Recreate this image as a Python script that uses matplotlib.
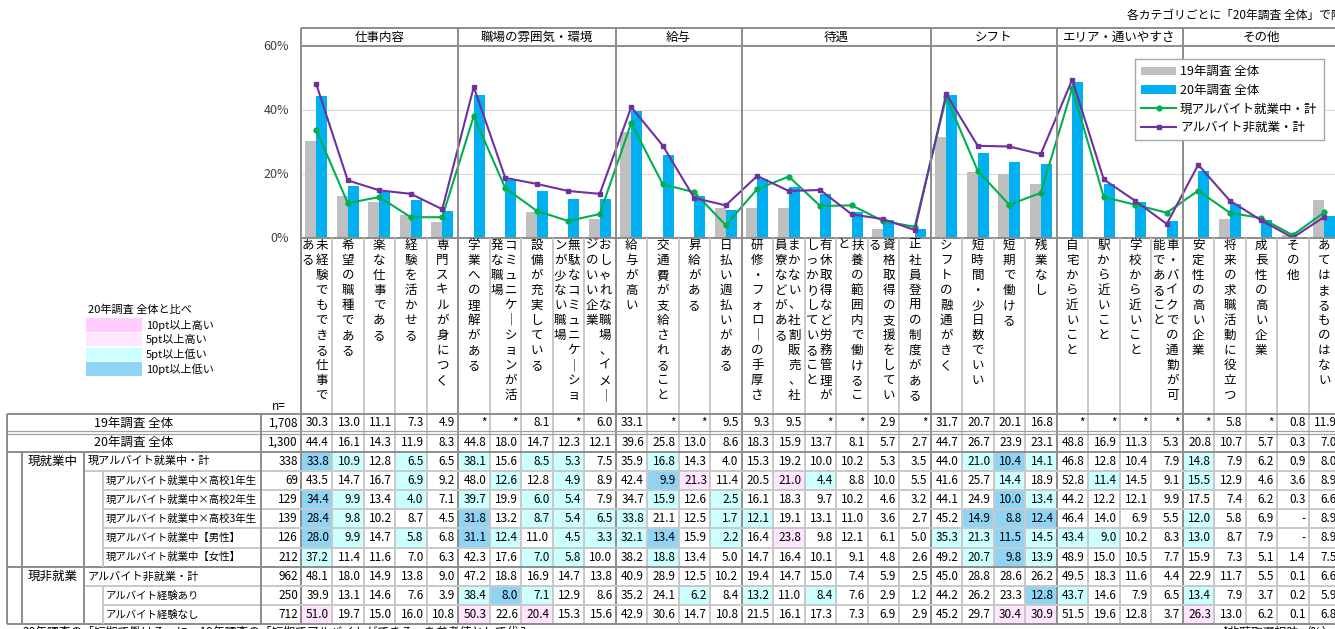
import numpy as np
import matplotlib.pyplot as plt
from matplotlib.patches import Rectangle

plt.rcParams['font.family'] = ['Noto Sans CJK JP', 'DejaVu Sans']

# ---- data ----
categories = ['仕事内容', '職場の雰囲気・環境', '給与', '待遇', 'シフト', 'エリア・通いやすさ', 'その他']
cat_sizes = [5, 5, 4, 6, 4, 4, 5]

items = ['未経験でもできる仕事である', '希望の職種である', '楽な仕事である', '経験を活かせる', '専門スキルが身につく',
         '学業への理解がある', 'コミュニケーションが活発な職場', '設備が充実している',
         '無駄なコミュニケーションが少ない職場', 'おしゃれな職場、イメージのいい企業',
         '給与が高い', '交通費が支給されること', '昇給がある', '日払い週払いがある',
         '研修・フォローの手厚さ', 'まかない、社割販売、社員寮などがある', '有休取得など労務管理がしっかりしていること',
         '扶養の範囲内で働けること', '資格取得の支援をしている', '正社員登用の制度がある',
         'シフトの融通がきく', '短時間・少日数でいい', '短期で働ける', '残業なし',
         '自宅から近いこと', '駅から近いこと', '学校から近いこと', '車・バイクでの通勤が可能であること',
         '安定性の高い企業', '将来の求職活動に役立つ', '成長性の高い企業', 'その他', 'あてはまるものはない']

row_labels = ['19年調査 全体', '20年調査 全体', '現アルバイト就業中・計',
              '現アルバイト就業中×高校1年生', '現アルバイト就業中×高校2年生', '現アルバイト就業中×高校3年生',
              '現アルバイト就業中【男性】', '現アルバイト就業中【女性】',
              'アルバイト非就業・計', 'アルバイト経験あり', 'アルバイト経験なし']
n_values = [1708, 1300, 338, 69, 129, 139, 126, 212, 962, 250, 712]

N = None
survey19 = [30.3, 13.0, 11.1, 7.3, 4.9, N, N, 8.1, N, 6.0, 33.1, N, N, 9.5, 9.3, 9.5, N, N, 2.9, N,
            31.7, 20.7, 20.1, 16.8, N, N, N, N, N, 5.8, N, 0.8, 11.9]
survey20 = [44.4, 16.1, 14.3, 11.9, 8.3, 44.8, 18.0, 14.7, 12.3, 12.1, 39.6, 25.8, 13.0, 8.6,
            18.3, 15.9, 13.7, 8.1, 5.7, 2.7, 44.7, 26.7, 23.9, 23.1, 48.8, 16.9, 11.3, 5.3,
            20.8, 10.7, 5.7, 0.3, 7.0]
working_total = [33.8, 10.9, 12.8, 6.5, 6.5, 38.1, 15.6, 8.5, 5.3, 7.5, 35.9, 16.8, 14.3, 4.0,
                 15.3, 19.2, 10.0, 10.2, 5.3, 3.5, 44.0, 21.0, 10.4, 14.1, 46.8, 12.8, 10.4, 7.9,
                 14.8, 7.9, 6.2, 0.9, 8.0]
working_hs1 = [43.5, 14.7, 16.7, 6.9, 9.2, 48.0, 12.6, 12.8, 4.9, 8.9, 42.4, 9.9, 21.3, 11.4,
               20.5, 21.0, 4.4, 8.8, 10.0, 5.5, 41.6, 25.7, 14.4, 18.9, 52.8, 11.4, 14.5, 9.1,
               15.5, 12.9, 4.6, 3.6, 8.9]
working_hs2 = [34.4, 9.9, 13.4, 4.0, 7.1, 39.7, 19.9, 6.0, 5.4, 7.9, 34.7, 15.9, 12.6, 2.5,
               16.1, 18.3, 9.7, 10.2, 4.6, 3.2, 44.1, 24.9, 10.0, 13.4, 44.2, 12.2, 12.1, 9.9,
               17.5, 7.4, 6.2, 0.3, 6.6]
working_hs3 = [28.4, 9.8, 10.2, 8.7, 4.5, 31.8, 13.2, 8.7, 5.4, 6.5, 33.8, 21.1, 12.5, 1.7,
               12.1, 19.1, 13.1, 11.0, 3.6, 2.7, 45.2, 14.9, 8.8, 12.4, 46.4, 14.0, 6.9, 5.5,
               12.0, 5.8, 6.9, N, 8.9]
working_male = [28.0, 9.9, 14.7, 5.8, 6.8, 31.1, 12.4, 11.0, 4.5, 3.3, 32.1, 13.4, 15.9, 2.2,
                16.4, 23.8, 9.8, 12.1, 6.1, 5.0, 35.3, 21.3, 11.5, 14.5, 43.4, 9.0, 10.2, 8.3,
                13.0, 8.7, 7.9, N, 8.9]
working_female = [37.2, 11.4, 11.6, 7.0, 6.3, 42.3, 17.6, 7.0, 5.8, 10.0, 38.2, 18.8, 13.4, 5.0,
                  14.7, 16.4, 10.1, 9.1, 4.8, 2.6, 49.2, 20.7, 9.8, 13.9, 48.9, 15.0, 10.5, 7.7,
                  15.9, 7.3, 5.1, 1.4, 7.5]
nonwork_total = [48.1, 18.0, 14.9, 13.8, 9.0, 47.2, 18.8, 16.9, 14.7, 13.8, 40.9, 28.9, 12.5, 10.2,
                 19.4, 14.7, 15.0, 7.4, 5.9, 2.5, 45.0, 28.8, 28.6, 26.2, 49.5, 18.3, 11.6, 4.4,
                 22.9, 11.7, 5.5, 0.1, 6.6]
nonwork_exp = [39.9, 13.1, 14.6, 7.6, 3.9, 38.4, 8.0, 7.1, 12.9, 8.6, 35.2, 24.1, 6.2, 8.4,
               13.2, 11.0, 8.4, 7.6, 2.9, 1.2, 44.2, 26.2, 23.3, 12.8, 43.7, 14.6, 7.9, 6.5,
               13.4, 7.9, 3.7, 0.2, 5.9]
nonwork_noexp = [51.0, 19.7, 15.0, 16.0, 10.8, 50.3, 22.6, 20.4, 15.3, 15.6, 42.9, 30.6, 14.7, 10.8,
                 21.5, 16.1, 17.3, 7.3, 6.9, 2.9, 45.2, 29.7, 30.4, 30.9, 51.5, 19.6, 12.8, 3.7,
                 26.3, 13.0, 6.2, 0.1, 6.8]

table_rows = [survey19, survey20, working_total, working_hs1, working_hs2, working_hs3,
              working_male, working_female, nonwork_total, nonwork_exp, nonwork_noexp]

# ---- layout (pixels) ----
W, H = 1335, 629
X0, CW = 300.5, 31.5
Y_TOP, Y_ZERO = 46, 238
DARK = '#8C8C8C'
LIGHT = '#C8C8C8'

def to_float(vals):
    return np.array([np.nan if v is None else v for v in vals], dtype=float)

fig = plt.figure(figsize=(W / 100, H / 100), dpi=100)

# chart axes
ax = fig.add_axes([X0 / W, 1 - Y_ZERO / H, 33 * CW / W, (Y_ZERO - Y_TOP) / H])
ax.set_xlim(0, 33)
ax.set_ylim(0, 60)
ax.axis('off')
for g in [20, 40]:
    ax.axhline(g, color='#D9D9D9', lw=0.8, zorder=0)

x = np.arange(33) + 0.5
b19 = ax.bar(x - 0.175, to_float(survey19), width=0.35, color='#BFBFBF', zorder=2, label='19年調査 全体')
b20 = ax.bar(x + 0.175, to_float(survey20), width=0.35, color='#00B0F0', zorder=2, label='20年調査 全体')
l1, = ax.plot(x, to_float(working_total), color='#00B050', lw=1.5, marker='o', ms=3.5, zorder=3,
              label='現アルバイト就業中・計')
l2, = ax.plot(x, to_float(nonwork_total), color='#7030A0', lw=1.5, marker='s', ms=3.5, zorder=3,
              label='アルバイト非就業・計')

# overlay in pixel coordinates
ov = fig.add_axes([0, 0, 1, 1], zorder=3)
ov.set_xlim(0, W)
ov.set_ylim(H, 0)
ov.axis('off')


def hline(y, x1, x2, c=LIGHT, lw=1.4):
    ov.plot([x1, x2], [y, y], color=c, lw=lw, solid_capstyle='butt', zorder=2)


def vline(xx, y1, y2, c=LIGHT, lw=1.4):
    ov.plot([xx, xx], [y1, y2], color=c, lw=lw, solid_capstyle='butt', zorder=2)


def col_x(i):
    return X0 + i * CW


leg = ov.legend(handles=[b19, b20, l1, l2], loc='upper left', bbox_to_anchor=(1135 / W, 1 - 59 / H),
                bbox_transform=fig.transFigure, fontsize=9, frameon=True, fancybox=False,
                edgecolor='#A6A6A6', framealpha=1, handlelength=2.8, labelspacing=0.45,
                borderpad=0.5, handletextpad=0.3, borderaxespad=0)
leg.set_zorder(10)

# y tick labels
for v in [0, 20, 40, 60]:
    ov.text(289, Y_ZERO - v * (Y_ZERO - Y_TOP) / 60, f'{v}%', ha='right', va='center',
            fontsize=9, color='#404040')

ov.text(1127, 15, '各カテゴリごとに「20年調査 全体」で降順ソート', ha='left', va='center', fontsize=8.5)

# header row and category separators
hline(28, X0, W, DARK)
hline(46, X0, W, DARK)
hline(Y_ZERO, X0, W, DARK)
cat_edges = np.concatenate([[0], np.cumsum(cat_sizes)])
for k, cat in enumerate(categories):
    xs, xe = col_x(cat_edges[k]), col_x(cat_edges[k + 1])
    ov.text((xs + xe) / 2, 37, cat, ha='center', va='center', fontsize=9)
for i in range(1, 33):
    if i not in cat_edges:
        vline(col_x(i), Y_ZERO, 624.5, LIGHT)
for e in cat_edges[1:-1]:
    vline(col_x(e), 28, 624.5, DARK)
vline(X0, 28, 624.5, DARK)

# vertical item labels
for i, lab in enumerate(items):
    lab = lab.replace('ー', '｜')
    chunks = [lab[:11], lab[11:]] if len(lab) > 11 else [lab]
    cx = col_x(i) + CW / 2
    offsets = [0] if len(chunks) == 1 else [5.5, -8]
    for chunk, off in zip(chunks, offsets):
        for k, ch in enumerate(chunk):
            ov.text(cx + off, 245 + k * 15.07, ch, ha='center', va='center', fontsize=9)

# colour key
ov.text(88, 310, '20年調査 全体と比べ', ha='left', va='center', fontsize=8)
key_colors = ['#FFCCFF', '#FFE5FF', '#CCFFFF', '#8FD3F5']
key_labels = ['10pt以上高い', '5pt以上高い', '5pt以上低い', '10pt以上低い']
for k, (kc, kl) in enumerate(zip(key_colors, key_labels)):
    y0 = 318 + k * 14.8
    ov.add_patch(Rectangle((86, y0), 56, 13.5, facecolor=kc, edgecolor='none'))
    ov.text(146, y0 + 7, kl, ha='left', va='center', fontsize=8)

ov.text(272, 406, 'n=', ha='left', va='center', fontsize=8.5)

# ---- table ----
bounds = [413.5, 432.5, 451.5] + [451.5 + 19.22 * k for k in range(1, 10)]
ref = to_float(survey20)
for r, vals in enumerate(table_rows):
    top, bot = bounds[r], bounds[r + 1]
    cy = (top + bot) / 2
    arr = to_float(vals)
    for i in range(33):
        if r >= 2 and not np.isnan(arr[i]):
            d = round(arr[i] - ref[i], 1)
            fc = None
            if d >= 10:
                fc = key_colors[0]
            elif d >= 5:
                fc = key_colors[1]
            elif d <= -10:
                fc = key_colors[3]
            elif d <= -5:
                fc = key_colors[2]
            if fc:
                ov.add_patch(Rectangle((col_x(i) + 1, top + 1), CW - 2, bot - top - 2,
                                       facecolor=fc, edgecolor='none', zorder=1))
        if np.isnan(arr[i]):
            s = '*' if r == 0 else '-'
        else:
            s = f'{arr[i]:.1f}'
        ov.text(col_x(i + 1) - 3, cy, s, ha='right', va='center', fontsize=8.5, zorder=3)
    ov.text(298, cy, f'{n_values[r]:,}', ha='right', va='center', fontsize=8.5)
    if r < 2:
        ov.text(134, cy, row_labels[r], ha='center', va='center', fontsize=9)
    elif r in (2, 8):
        ov.text(88, cy, row_labels[r], ha='left', va='center', fontsize=8)
    else:
        ov.text(106, cy, row_labels[r], ha='left', va='center', fontsize=7.5)

ov.text(53, (bounds[2] + bounds[3]) / 2, '現就業中', ha='center', va='center', fontsize=9)
ov.text(53, (bounds[8] + bounds[9]) / 2, '現非就業', ha='center', va='center', fontsize=9)

# table grid
hline(bounds[0], 7, W, DARK)
hline(431.3, 7, W, '#A0A0A0', 0.9)
hline(434.0, 7, W, '#A0A0A0', 0.9)
hline(bounds[2], 7, W, DARK)
hline(bounds[3], 84, W)
for k in range(4, 8):
    hline(bounds[k], 103, W)
hline(bounds[8], 7, W, DARK)
hline(bounds[9], 84, W)
hline(bounds[10], 103, W)
hline(bounds[11], 7, W, DARK)
vline(7, bounds[0], bounds[11], DARK)
vline(22, bounds[2], bounds[11], DARK)
vline(84, bounds[2], bounds[11], DARK)
vline(103, bounds[3], bounds[8])
vline(103, bounds[9], bounds[11])
vline(261, bounds[0], bounds[11], DARK)

ov.text(22, 626, '20年調査の「短期で働ける」に、19年調査の「短期でアルバイトができる」を参考値として代入',
        ha='left', va='top', fontsize=8.5)
ov.text(1222, 626, '*非聴取選択肢', ha='left', va='top', fontsize=8.5)
ov.text(1300, 626, '（%）', ha='left', va='top', fontsize=8.5)

fig.savefig('out.png', dpi=100)
